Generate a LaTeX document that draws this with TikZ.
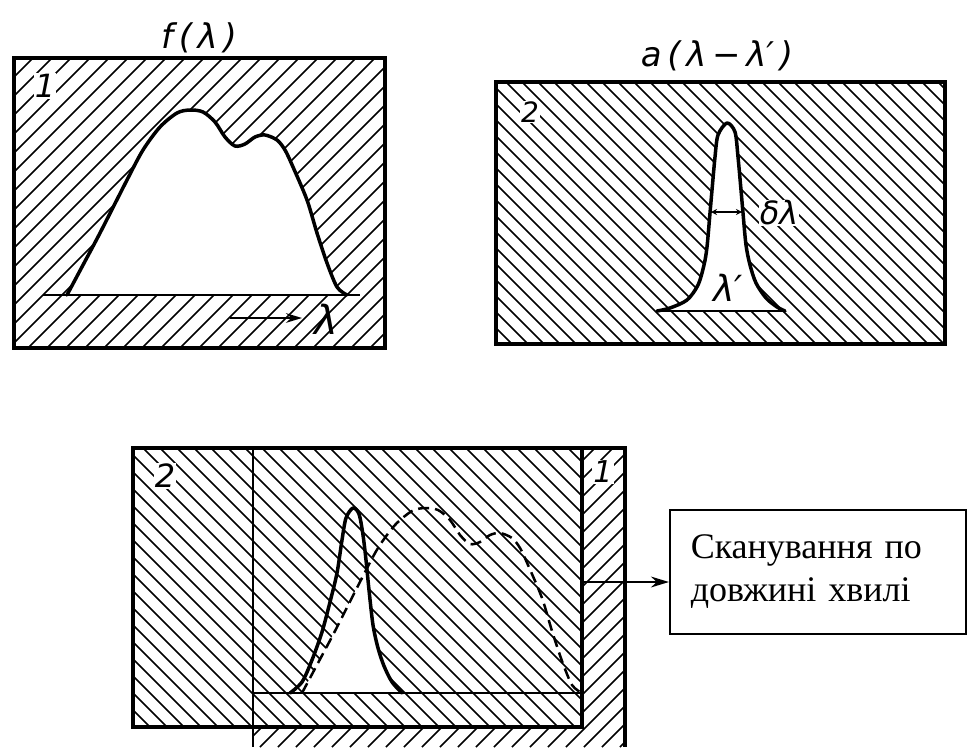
\documentclass[tikz,border=0pt]{standalone}
\usepackage{fontspec}
\setmainfont{Liberation Serif}
\newfontfamily\labfont{DejaVu Sans}
\usetikzlibrary{arrows.meta}
\begin{document}
\begin{tikzpicture}[x=1pt,y=-1pt,
  border/.style={line width=3.5pt},
  hatchline/.style={line width=1.6pt},
  curve/.style={line width=3.5pt, line join=round, line cap=round},
  dashcurve/.style={line width=2.5pt, dash pattern=on 11pt off 6pt},
  baseline/.style={line width=2.2pt},
  lab/.style={font=\labfont\itshape, inner sep=1pt},
  labw/.style={lab, fill=white},
  tip/.style={-{Stealth[length=#1,width=0.6*#1]}}
]
\useasboundingbox (0,0) rectangle (968,747);

%================ panel 1 (top left)
\begin{scope}
  \clip (14,58) rectangle (385,348);
  \foreach \c in {72,91,...,733} \draw[hatchline] ({\c-58},58) -- ({\c-348},348);
\end{scope}
\fill[white] plot[smooth,tension=0.5] coordinates {(67,295) (83,265) (100,233) (127,180) (143,150) (160,127) (177,113) (190,110) (203,112) (215,122) (225,137) (235,146) (245,144) (255,137) (265,135) (277,140) (285,150) (293,167) (307,200) (317,233) (327,263) (337,287) (347,295)} -- cycle;
\draw[curve] plot[smooth,tension=0.5] coordinates {(67,295) (83,265) (100,233) (127,180) (143,150) (160,127) (177,113) (190,110) (203,112) (215,122) (225,137) (235,146) (245,144) (255,137) (265,135) (277,140) (285,150) (293,167) (307,200) (317,233) (327,263) (337,287) (347,295)};
\draw[baseline] (43,295) -- (360,295);
\draw[border] (14,58) rectangle (385,348);
\node[lab, font=\labfont\itshape\fontsize{34}{36}\selectfont] (t1) at (199,38) {f\,(\,λ\,)};
\node[labw, font=\labfont\itshape\fontsize{32}{34}\selectfont] (n1) at (45,86) {1};
\coordinate (la) at (230,318);
\coordinate (lb) at (302,318);
\draw[line width=2pt, tip=16pt] (la) -- (lb);
\node[lab, font=\labfont\itshape\fontsize{40}{42}\selectfont] (lam) at (326,319) {λ};

%================ panel 2 (top right)
\begin{scope}
  \clip (496,82) rectangle (945,344);
  \foreach \c in {152,168,...,863} \draw[hatchline] ({\c+82},82) -- ({\c+344},344);
\end{scope}
\fill[white] plot[smooth,tension=0.5] coordinates {(657,311) (670,308) (687,300) (698,285) (704,265) (707,247) (710,213) (712,190) (715,157) (718,135) (727,123) (735,132) (738,157) (741,190) (743,213) (746,245) (750,265) (756,283) (766,298) (777,307) (785,311)} -- cycle;
\draw[curve] plot[smooth,tension=0.5] coordinates {(657,311) (670,308) (687,300) (698,285) (704,265) (707,247) (710,213) (712,190) (715,157) (718,135) (727,123) (735,132) (738,157) (741,190) (743,213) (746,245) (750,265) (756,283) (766,298) (777,307) (785,311)};
\draw[baseline] (657,311) -- (785,311);
\draw[border] (496,82) rectangle (945,344);
\node[lab, font=\labfont\itshape\fontsize{34}{36}\selectfont] (t2) at (717,56) {a\,(\,λ\,−\,λ′\,)};
\node[labw, font=\labfont\itshape\fontsize{28}{30}\selectfont] (n2) at (530,112) {2};
\coordinate (da) at (711,212);
\coordinate (db) at (742,212);
\draw[line width=1.8pt, {Stealth[length=6pt,width=6pt]}-{Stealth[length=6pt,width=6pt]}] (da) -- (db);
\node[labw, font=\labfont\itshape\fontsize{32}{34}\selectfont] (dl) at (779,213) {δλ};
\node[lab, font=\labfont\itshape\fontsize{36}{38}\selectfont] (lp) at (728,288) {λ′};

%================ bottom: plate 1 (behind)
\begin{scope}
  \clip (253,448) rectangle (625,747);
  \foreach \c in {701,719,...,1372} \draw[hatchline] ({\c-448},448) -- ({\c-747},747);
\end{scope}
%================ bottom: plate 2 (front)
\fill[white] (133,448) rectangle (582,727);
\begin{scope}
  \clip (133,448) rectangle (582,727);
  \foreach \c in {-594,-577,...,134} \draw[hatchline] ({\c+448},448) -- ({\c+727},727);
\end{scope}
% common window
\begin{scope}
  \clip plot[smooth,tension=0.5] coordinates {(290,693) (302,682) (312,660) (322,632) (330,602) (337,573) (342,540) (346,518) (353,508) (359,514) (363,535) (366,560) (369,590) (373,625) (378,648) (384,666) (392,682) (402,693)} -- cycle;
  \begin{scope}[shift={(235,398)}]
    \fill[white] plot[smooth,tension=0.5] coordinates {(67,295) (83,265) (100,233) (127,180) (143,150) (160,127) (177,113) (190,110) (203,112) (215,122) (225,137) (235,146) (245,144) (255,137) (265,135) (277,140) (285,150) (293,167) (307,200) (317,233) (327,263) (337,287) (347,295)} -- cycle;
  \end{scope}
\end{scope}
\draw[curve] plot[smooth,tension=0.5] coordinates {(290,693) (302,682) (312,660) (322,632) (330,602) (337,573) (342,540) (346,518) (353,508) (359,514) (363,535) (366,560) (369,590) (373,625) (378,648) (384,666) (392,682) (402,693)};
\begin{scope}[shift={(235,398)}]
  \draw[dashcurve] plot[smooth,tension=0.5] coordinates {(67,295) (83,265) (100,233) (127,180) (143,150) (160,127) (177,113) (190,110) (203,112) (215,122) (225,137) (235,146) (245,144) (255,137) (265,135) (277,140) (285,150) (293,167) (307,200) (317,233) (327,263) (337,287) (347,295)};
\end{scope}
\draw[baseline] (253,693) -- (582,693);
\draw[line width=2.5pt] (253,448) -- (253,747);
\draw[border] (133,448) rectangle (582,727);
\draw[border] (582,448) -- (625,448) -- (625,747);
\node[labw, font=\labfont\itshape\fontsize{32}{34}\selectfont] (n2b) at (165,476) {2};
\node[labw, font=\labfont\itshape\fontsize{30}{32}\selectfont] (n1b) at (603,472) {1};

%================ text box and scan arrow
\node[draw, line width=1.5pt, anchor=north west, text width=254pt, inner xsep=21pt,
      minimum height=124pt, align=left, font=\fontsize{36}{43}\selectfont] (tbox) at (669,509)
      {Сканування по\\довжині хвилі};
\coordinate (scan) at (582,582);
\draw[line width=2.5pt, tip=18pt] (scan) -- (scan -| tbox.west);
\end{tikzpicture}
\end{document}
